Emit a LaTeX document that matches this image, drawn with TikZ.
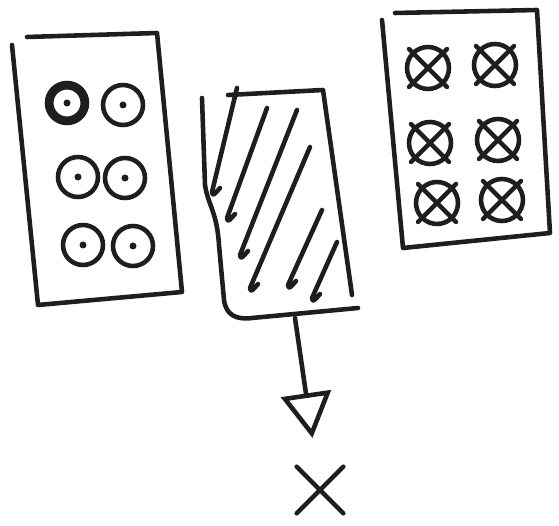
\documentclass[tikz,border=0pt]{standalone}
\usepackage{tikz}
\usetikzlibrary{arrows.meta, positioning, shapes.misc}
\definecolor{ink}{HTML}{1E1E1E}

\begin{document}
\begin{tikzpicture}[
  x=0.02cm, y=-0.02cm,
  pen/.style={line width=2.6pt, line cap=round, line join=round, draw=ink},
  seed/.style={circle, pen, minimum width=0.8cm, minimum height=0.74cm, inner sep=0pt},
  spent/.style={circle, pen, minimum size=0.84cm, inner sep=0pt},
  arrow/.style={pen, -{Triangle[open, length=0.9cm, width=1cm]}}
]
\useasboundingbox (0,0) rectangle (559,526);

% Panels
\draw[pen] (27,37) -- (157,33) -- (182,292) -- (38,305) -- (12,45);
\draw[pen] (202,98) -- (205,185) .. controls (208,205) and (217,212) .. (219,245)
  -- (224,300) .. controls (226,315) and (236,320) .. (252,318) -- (358,308);
\draw[pen] (228,95) -- (323,90) -- (352,295);
\draw[pen] (395,13) -- (537,10) -- (550,233) -- (403,248) -- (382,20);

% Hatching
\foreach \xa/\ya/\xb/\yb in {237/88/212/192, 267/108/227/218, 297/110/240/255,
    310/147/250/288, 322/210/288/285, 337/242/312/298}
  \draw[pen] (\xa,\ya) -- (\xb,\yb) .. controls ++(1,4) .. ++(8,-4);

% Nodes
\foreach \n/\px/\py in {1/67/103, 2/123/105, 3/78/177, 4/125/178, 5/83/245, 6/133/246} {
  \node[seed] (s\n) at (\px,\py) {};
  \fill[ink] (s\n.center) circle (3.5);
}
\draw[pen, line width=4pt] (s1) circle (17);

\foreach \n/\px/\py in {1/428/68, 2/495/65, 3/430/143, 4/498/140, 5/437/203, 6/502/200} {
  \node[spent] (c\n) at (\px,\py) {};
  \draw[pen, shorten <=-2pt, shorten >=-2pt] (c\n.north west) -- (c\n.south east);
  \draw[pen, shorten <=-2pt, shorten >=-2pt] (c\n.north east) -- (c\n.south west);
}

\coordinate (tail) at (295,318);
\node[cross out, pen, minimum size=0.84cm] (x) at (320,490) {};

% Pointers
\draw[arrow, shorten >=0.58cm] (tail) -- (x);

\end{tikzpicture}
\end{document}
